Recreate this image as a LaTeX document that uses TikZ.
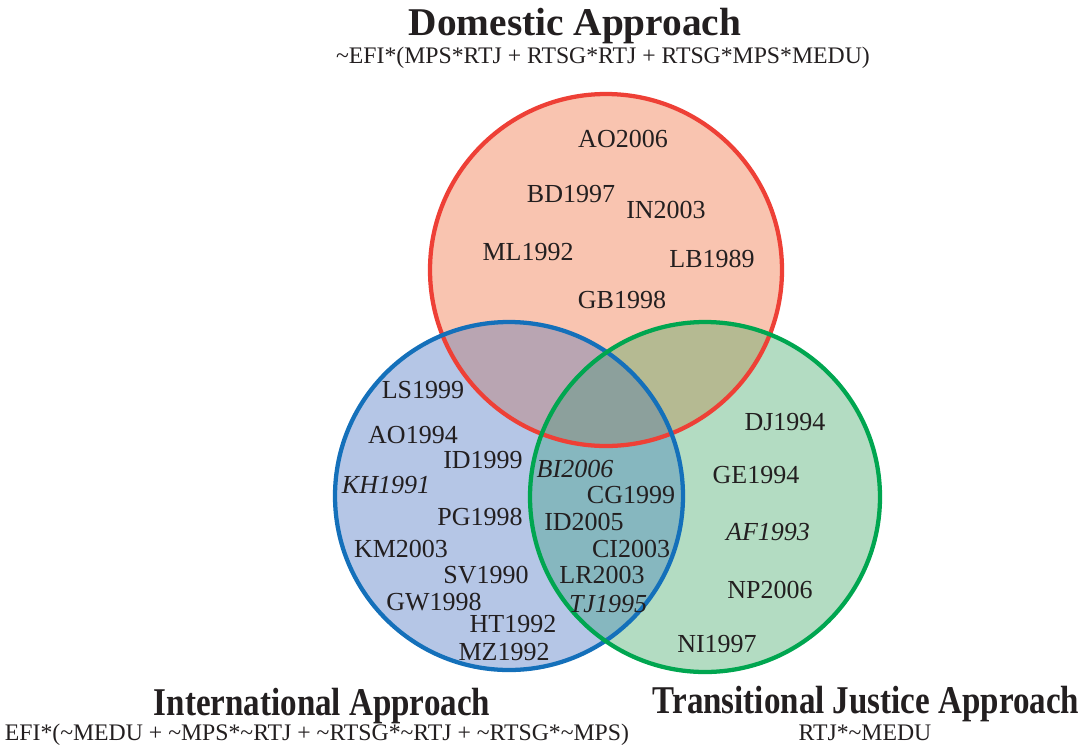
\documentclass[tikz,border=0pt]{standalone}
\usepackage{fontspec}
\setmainfont{Liberation Serif}
\usetikzlibrary{positioning}

\definecolor{inkgray}{RGB}{35,31,32}
\definecolor{domline}{RGB}{238,64,54}
\definecolor{intline}{RGB}{20,112,186}
\definecolor{traline}{RGB}{0,166,80}
\definecolor{domfill}{RGB}{249,196,176}
\definecolor{intfill}{RGB}{181,198,230}
\definecolor{trafill}{RGB}{179,220,194}
\definecolor{dominfill}{RGB}{185,165,178}
\definecolor{domtrfill}{RGB}{181,186,146}
\definecolor{intrfill}{RGB}{134,183,191}
\definecolor{allfill}{RGB}{140,160,156}

\newcommand{\squeeze}[1]{\scalebox{0.84}[1]{#1}}

\begin{document}
\begin{tikzpicture}[
  x=0.75pt, y=-0.75pt,
  case/.style={anchor=base, inner sep=0pt, text=inkgray,
    font=\fontsize{19.5}{20}\selectfont},
  heading/.style={anchor=base, inner sep=0pt, text=inkgray,
    font=\fontsize{29.5}{30}\selectfont\bfseries},
  formula/.style={anchor=base, inner sep=0pt, text=inkgray,
    font=\fontsize{17.8}{18}\selectfont},
  ring/.style={line width=3.2pt}
]
  \useasboundingbox (0,0) rectangle (1079,751);

  \coordinate (dom) at (606,270);
  \coordinate (int) at (509,496);
  \coordinate (tra) at (705,497);

  % region fills
  \fill[domfill] (dom) circle (176);
  \fill[intfill] (int) circle (174);
  \fill[trafill] (tra) circle (175);
  \begin{scope}
    \clip (dom) circle (176);
    \fill[dominfill] (int) circle (174);
    \fill[domtrfill] (tra) circle (175);
  \end{scope}
  \begin{scope}
    \clip (int) circle (174);
    \fill[intrfill] (tra) circle (175);
  \end{scope}
  \begin{scope}
    \clip (dom) circle (176);
    \clip (int) circle (174);
    \fill[allfill] (tra) circle (175);
  \end{scope}

  % outlines
  \draw[ring, domline] (dom) circle (176);
  \draw[ring, intline] (int) circle (174);
  \draw[ring, traline] (tra) circle (175);

  % headings
  \node[heading] (domtitle) at (575,35) {Domestic Approach};
  \node[formula] (domform) at (603,63) {\textasciitilde EFI*(MPS*RTJ + RTSG*RTJ + RTSG*MPS*MEDU)};
  \node[heading] (inttitle) at (322,715) {\squeeze{International Approach}};
  \node[formula] (intform) at (317,740) {EFI*(\textasciitilde MEDU + \textasciitilde MPS*\textasciitilde RTJ + \textasciitilde RTSG*\textasciitilde RTJ + \textasciitilde RTSG*\textasciitilde MPS)};
  \node[heading] (tratitle) at (866,713) {\squeeze{Transitional Justice Approach}};
  \node[formula] (traform) at (865,740) {RTJ*\textasciitilde MEDU};

  % domestic only
  \node[case] (ao06) at (623,147) {AO2006};
  \node[case] (bd97) at (571,202) {BD1997};
  \node[case] (in03) at (666,218) {IN2003};
  \node[case] (ml92) at (528,260) {ML1992};
  \node[case] (lb89) at (712,267) {LB1989};
  \node[case] (gb98) at (622,308) {GB1998};

  % international only
  \node[case] (ls99) at (423,398) {LS1999};
  \node[case] (ao94) at (413,443) {AO1994};
  \node[case] (id99) at (483,468) {ID1999};
  \node[case] (kh91) at (386,493) {\itshape KH1991};
  \node[case] (pg98) at (480,525) {PG1998};
  \node[case] (km03) at (401,557) {KM2003};
  \node[case] (sv90) at (486,583) {SV1990};
  \node[case] (gw98) at (434,610) {GW1998};
  \node[case] (ht92) at (513,632) {HT1992};
  \node[case] (mz92) at (504,660) {MZ1992};

  % international and transitional
  \node[case] (bi06) at (575,477) {\itshape BI2006};
  \node[case] (cg99) at (631,503) {CG1999};
  \node[case] (id05) at (584,530) {ID2005};
  \node[case] (ci03) at (631,557) {CI2003};
  \node[case] (lr03) at (602,583) {LR2003};
  \node[case] (tj95) at (608,612) {\itshape TJ1995};

  % transitional only
  \node[case] (dj94) at (785,430) {DJ1994};
  \node[case] (ge94) at (756,483) {GE1994};
  \node[case] (af93) at (768,540) {\itshape AF1993};
  \node[case] (np06) at (770,598) {NP2006};
  \node[case] (ni97) at (717,652) {NI1997};
\end{tikzpicture}
\end{document}
